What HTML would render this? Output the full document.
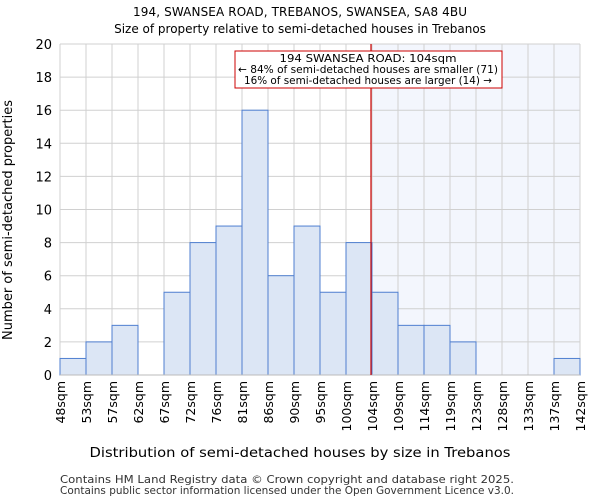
<!DOCTYPE html>
<html><head><meta charset="utf-8"><style>
body{margin:0;background:#fff;}
svg{display:block;font-family:"DejaVu Sans","Liberation Sans",sans-serif;}
</style></head><body>
<svg id="c" width="600" height="500">
<text x="300" y="16" text-anchor="middle" font-size="12" textLength="334">194, SWANSEA ROAD, TREBANOS, SWANSEA, SA8 4BU</text>
<text x="300" y="33" text-anchor="middle" font-size="12">Size of property relative to semi-detached houses in Trebanos</text>
<text x="300" y="457" text-anchor="middle" font-size="13" textLength="421" lengthAdjust="spacingAndGlyphs">Distribution of semi-detached houses by size in Trebanos</text>
<text transform="translate(12,220) rotate(-90)" text-anchor="middle" font-size="13" textLength="240" lengthAdjust="spacingAndGlyphs">Number of semi-detached properties</text>
<text x="60" y="483" font-size="11" fill="#333" textLength="454" lengthAdjust="spacingAndGlyphs">Contains HM Land Registry data © Crown copyright and database right 2025.</text>
<text x="60" y="494" font-size="11" fill="#333" textLength="454" lengthAdjust="spacingAndGlyphs">Contains public sector information licensed under the Open Government Licence v3.0.</text>
<g id="plot"></g>
</svg>
<script>
const categories=["48sqm","53sqm","57sqm","62sqm","67sqm","72sqm","76sqm","81sqm","86sqm","90sqm","95sqm","100sqm","104sqm","109sqm","114sqm","119sqm","123sqm","128sqm","133sqm","137sqm","142sqm"];
const counts=[1,2,3,0,5,8,9,16,6,9,5,8,5,3,3,2,0,0,0,1];
const yTicks=[0,2,4,6,8,10,12,14,16,18,20];
const markerIndex=12;
const annotationLines=["194 SWANSEA ROAD: 104sqm","← 84% of semi-detached houses are smaller (71)","16% of semi-detached houses are larger (14) →"];
const annLen=[177,260,248];
const NS="http://www.w3.org/2000/svg";
const L=60,R=580,T=44,B=375,yMax=20;
const bw=(R-L)/counts.length;
const xs=i=>L+i*bw, ys=v=>B-(v/yMax)*(B-T);
const g=document.getElementById('plot');
function mk(t,a,p){const e=document.createElementNS(NS,t);for(const k in a)e.setAttribute(k,a[k]);(p||g).appendChild(e);return e;}
let e=mk('rect',{x:xs(markerIndex),y:T,width:R-xs(markerIndex),height:B-T,fill:'#f3f6fd'});


yTicks.forEach(v=>{let l=mk('line',{x1:L,x2:R,y1:ys(v),y2:ys(v),stroke:'#d0d0d0'});


let t=mk('text',{x:L-8,y:ys(v)+5,'text-anchor':'end','font-size':13});t.textContent=v;

});
categories.forEach((c,i)=>{let l=mk('line',{x1:xs(i),x2:xs(i),y1:T,y2:B,stroke:'#d0d0d0'});


let t=mk('text',{transform:`translate(${xs(i)+5},${B+6}) rotate(-90)`,'text-anchor':'end','font-size':12.5});t.textContent=c;

});
counts.forEach((v,i)=>{if(v<=0)return;let r=mk('rect',{x:xs(i),y:ys(v),width:bw,height:B-ys(v),fill:'#dce6f5',stroke:'#4f7fd0','stroke-width':1});

});
let ax=mk('line',{x1:L,x2:R,y1:B,y2:B,stroke:'#bbb'});


let ml=mk('line',{x1:xs(markerIndex)-1,x2:xs(markerIndex)-1,y1:T,y2:B,stroke:'#cc0000','stroke-width':1.2});


let box=mk('rect',{x:235,y:51,width:267,height:37,fill:'#fff',stroke:'#cc0000'});


annotationLines.forEach((s,i)=>{let t=mk('text',{x:368,y:62+i*11,'text-anchor':'middle','font-size':10.5,textLength:annLen[i],lengthAdjust:'spacingAndGlyphs'});t.textContent=s;

});
</script>
</body></html>
